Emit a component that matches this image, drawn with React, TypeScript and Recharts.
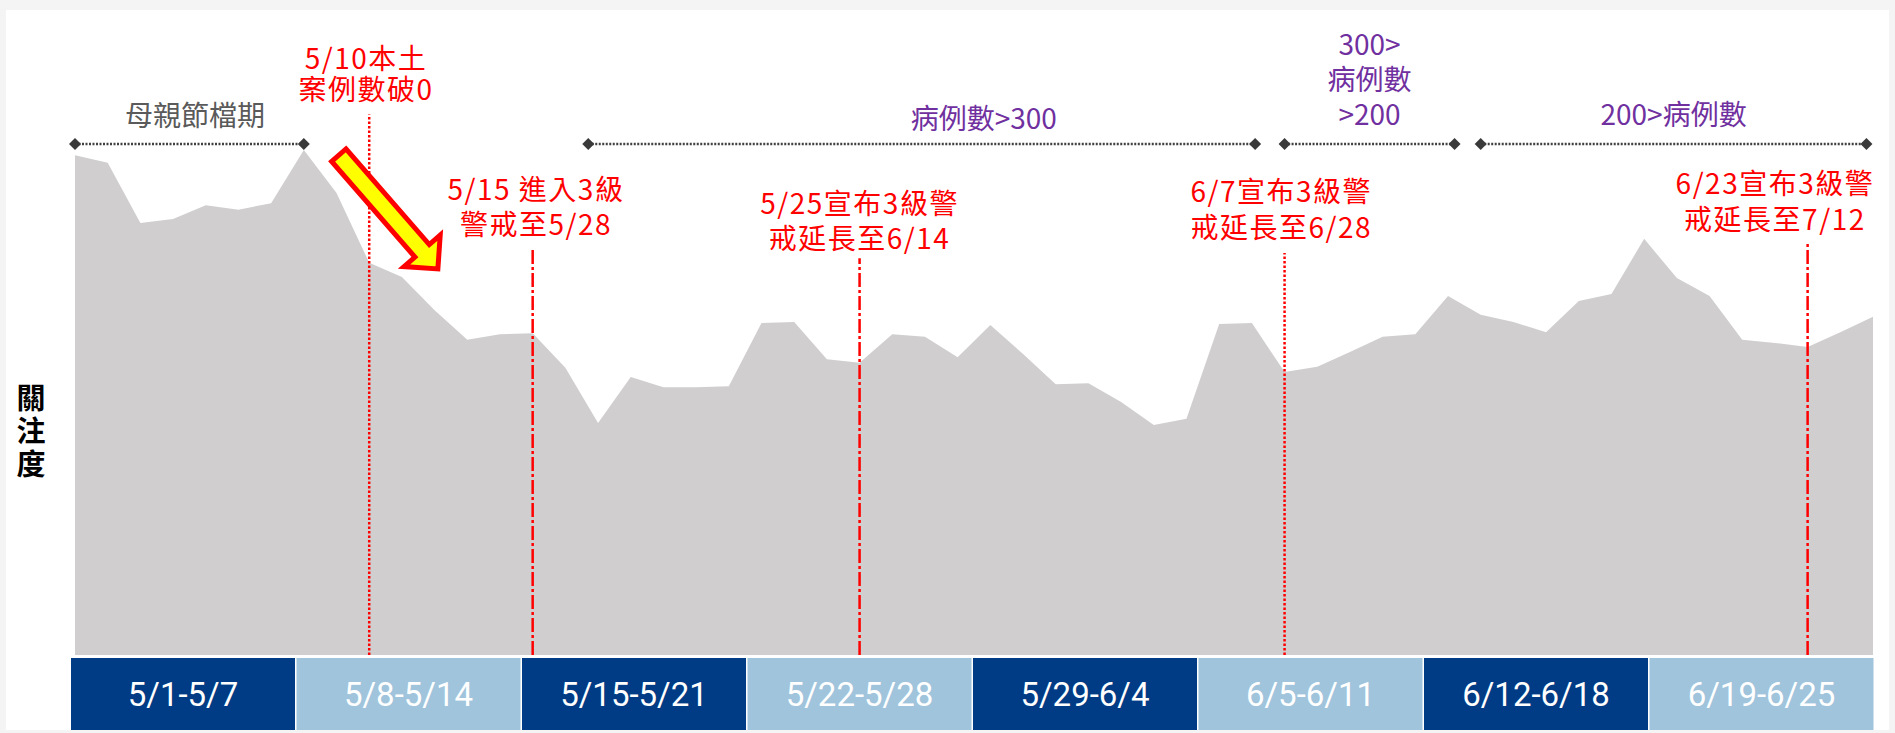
import { AreaChart, Area, XAxis, YAxis, ReferenceLine, ReferenceDot, BarChart, Bar, Cell, LabelList } from "recharts";

// daily dates 5/1 - 6/25
const DATES = [
  "5/1", "5/2", "5/3", "5/4", "5/5", "5/6", "5/7", "5/8", "5/9", "5/10",
  "5/11", "5/12", "5/13", "5/14", "5/15", "5/16", "5/17", "5/18", "5/19", "5/20",
  "5/21", "5/22", "5/23", "5/24", "5/25", "5/26", "5/27", "5/28", "5/29", "5/30",
  "5/31", "6/1", "6/2", "6/3", "6/4", "6/5", "6/6", "6/7", "6/8", "6/9",
  "6/10", "6/11", "6/12", "6/13", "6/14", "6/15", "6/16", "6/17", "6/18", "6/19",
  "6/20", "6/21", "6/22", "6/23", "6/24", "6/25",
];

// 關注度 (relative interest)
const INTEREST = [
  98.0, 96.5, 84.7, 85.5, 88.2, 87.3, 88.6, 99.0, 90.6, 76.9,
  74.1, 67.6, 61.8, 62.9, 63.1, 56.3, 45.5, 54.5, 52.5, 52.5,
  52.7, 65.1, 65.3, 58.0, 57.3, 62.9, 62.4, 58.4, 64.7, 59.0,
  53.1, 53.3, 49.6, 45.1, 46.3, 64.9, 65.1, 55.5, 56.5, 59.4,
  62.4, 62.9, 70.4, 66.7, 65.3, 63.3, 69.4, 70.8, 81.6, 73.9,
  70.4, 61.8, 61.2, 60.4, 63.3, 66.3,
];

const WEEKS = ["5/1-5/7", "5/8-5/14", "5/15-5/21", "5/22-5/28", "5/29-6/4", "6/5-6/11", "6/12-6/18", "6/19-6/25"];
const WEEK_BAND = [1, 1, 1, 1, 1, 1, 1, 1];

// period brackets above the area
const PERIODS = [
  { from: 0, to: 7, at: 3.67, y: 106.1, lines: ["母親節檔期"], color: "#5a5a5a" },
  { from: 15.7, to: 36.1, at: 27.8, y: 105.5, lines: ["病例數>300"], color: "#7030a0" },
  { from: 37, to: 42.2, at: 39.6, y: 120, lines: ["300>", "病例數", ">200"], color: "#7030a0" },
  { from: 43, to: 54.8, at: 48.9, y: 106.3, lines: ["200>病例數"], color: "#7030a0" },
];

const DOTTED = "2.5 2";
const DASHDOT = "14 3 3 3";

// event markers
const EVENTS = [
  { day: 9, top: 106, dash: DOTTED, at: 8.9, y: 117.2, gap: 31, lines: ["5/10本土", "案例數破0"] },
  { day: 14, top: 79.8, dash: DASHDOT, at: 14.1, y: 91.6, gap: 35, lines: ["5/15 進入3級", "警戒至5/28"] },
  { day: 24, top: 77.8, dash: DASHDOT, at: 24.0, y: 88.8, gap: 35, lines: ["5/25宣布3級警", "戒延長至6/14"] },
  { day: 37, top: 78.8, dash: DOTTED, at: 36.9, y: 91.2, gap: 36, lines: ["6/7宣布3級警", "戒延長至6/28"] },
  { day: 53, top: 80.8, dash: DASHDOT, at: 52.0, y: 92.7, gap: 36, lines: ["6/23宣布3級警", "戒延長至7/12"] },
];

const FONT = '"Noto Sans CJK TC", "Noto Sans", sans-serif';

const data = DATES.map((d, i) => ({ i, date: d, v: INTEREST[i] }));
const weekData = WEEKS.map((w, i) => ({ week: w, v: WEEK_BAND[i] }));

const labels = [
  ...PERIODS.map((p) => ({ lines: p.lines, x: p.at, y: p.y, gap: 35, color: p.color, size: 28, ls: 0 })),
  ...EVENTS.map((e) => ({ lines: e.lines, x: e.at, y: e.y, gap: e.gap, color: "#ff0000", size: 28, ls: 1.5 })),
];

function SpanShape(props: any) {
  const { x1, x2, y1 } = props;
  const d = (x: number) => `M${x - 6},${y1} L${x},${y1 - 6} L${x + 6},${y1} L${x},${y1 + 6} Z`;
  return (
    <g>
      <line x1={x1} x2={x2} y1={y1} y2={y1} stroke="#404040" strokeWidth={2.5} strokeDasharray="2 1.5" />
      <path d={d(x1)} fill="#3a3a3a" />
      <path d={d(x2)} fill="#3a3a3a" />
    </g>
  );
}

function ArrowShape(props: any) {
  const { x1, y1, x2, y2 } = props;
  const len = Math.hypot(x2 - x1, y2 - y1);
  const ang = (Math.atan2(y2 - y1, x2 - x1) * 180) / Math.PI;
  const hb = len - 24;
  const pts = [
    [0, -9.5], [hb, -9.5], [hb, -24], [len, 0], [hb, 24], [hb, 9.5], [0, 9.5],
  ].map((p) => p.join(",")).join(" ");
  return (
    <g transform={`translate(${x1},${y1}) rotate(${ang})`}>
      <polygon points={pts} fill="#ffff00" stroke="#ff0000" strokeWidth={5} strokeLinejoin="miter" />
    </g>
  );
}

function YLabel(props: any) {
  const vb = props.viewBox;
  const bottom = vb.y + vb.height;
  return (
    <text x={31} y={bottom - 272} textAnchor="start" writingMode="vertical-rl"
      fontFamily={FONT} fontWeight={700} fontSize={29} letterSpacing={4} fill="#000">
      關注度
    </text>
  );
}

export default function App() {
  return (
    <div style={{ position: "relative", width: 1895, height: 733, background: "#f4f4f4", overflow: "hidden" }}>
      <style>{"body{margin:0}"}</style>
      <div style={{ position: "absolute", left: 6, top: 10, width: 1883, height: 720, background: "#fff" }} />
      <div style={{ position: "absolute", left: 0, top: 0 }}>
        <AreaChart width={1895} height={733} data={data} margin={{ top: 43, right: 22, bottom: 78, left: 0 }}>
          <XAxis type="number" dataKey="i" domain={[0, 55]} hide />
          <YAxis type="number" domain={[0, 120]} ticks={[0, 30, 60, 90, 120]} width={75}
            axisLine={false} tickLine={false} tick={false} label={YLabel} />
          <Area type="linear" dataKey="v" stroke="none" fill="#d0cecf" fillOpacity={1} isAnimationActive={false} />
          {EVENTS.map((e) => (
            <ReferenceLine key={e.day} segment={[{ x: e.day, y: 0 }, { x: e.day, y: e.top }]}
              stroke="#ff0000" strokeWidth={2.5} strokeDasharray={e.dash} ifOverflow="visible" />
          ))}
          {PERIODS.map((p) => (
            <ReferenceLine key={p.from} segment={[{ x: p.from, y: 100.2 }, { x: p.to, y: 100.2 }]}
              ifOverflow="visible" shape={SpanShape} />
          ))}
          <ReferenceLine segment={[{ x: 8.07, y: 98 }, { x: 11.1, y: 75.7 }]} ifOverflow="visible" shape={ArrowShape} />
          {labels.map((d, k) => (
            <ReferenceDot key={k} x={d.x} y={d.y} r={0} ifOverflow="visible"
              shape={(p: any) => (
                <text x={p.cx} y={p.cy} textAnchor="middle" dominantBaseline="central"
                  fontFamily={FONT} fontSize={d.size} letterSpacing={d.ls} fill={d.color}>
                  {d.lines.map((t, j) => (
                    <tspan key={j} x={p.cx} dy={j === 0 ? 0 : d.gap}>{t}</tspan>
                  ))}
                </text>
              )} />
          ))}
        </AreaChart>
      </div>
      <div style={{ position: "absolute", left: 70, top: 658 }}>
        <BarChart width={1804} height={72} data={weekData} margin={{ top: 0, right: 0, bottom: 0, left: 0 }} barCategoryGap={1}>
          <XAxis dataKey="week" hide />
          <YAxis domain={[0, 1]} hide />
          <Bar dataKey="v" isAnimationActive={false}>
            {weekData.map((w, i) => (
              <Cell key={w.week} fill={i % 2 === 0 ? "#003b85" : "#a0c4dc"} />
            ))}
            <LabelList dataKey="week" position="center" fill="#ffffff" fontSize={33} fontFamily="Roboto, sans-serif" />
          </Bar>
        </BarChart>
      </div>
    </div>
  );
}
